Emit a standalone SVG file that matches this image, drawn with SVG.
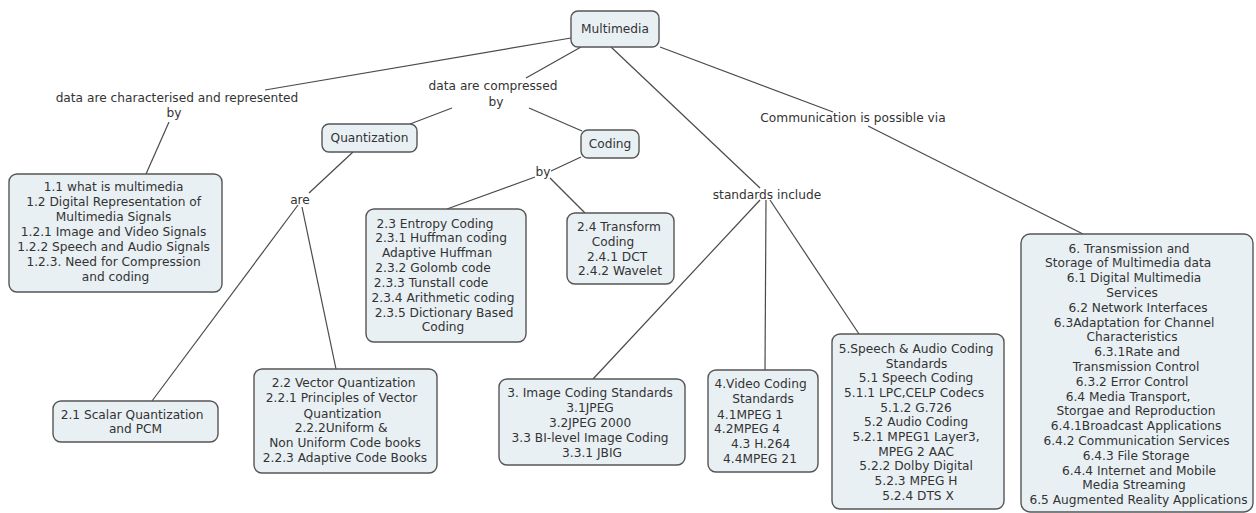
<svg xmlns="http://www.w3.org/2000/svg" width="1256" height="513" viewBox="0 0 1256 513">
  <style>
    .node rect { fill: #e9f0f4; stroke: #555; stroke-width: 1.4; }
    text { font-family: "DejaVu Sans", Verdana, sans-serif; font-size: 12.2px; fill: #333; text-anchor: middle; }
    .conn line { stroke: #4a4a4a; stroke-width: 1.2; }
  </style>
  <rect width="1256" height="513" fill="#ffffff"/>

  <!-- connectors (gaps left where linking phrases sit) -->
  <g id="connectors" class="conn">
    <line x1="571" y1="38" x2="265" y2="90"/>
    <line x1="169" y1="122" x2="146" y2="174"/>
    <line x1="581" y1="47" x2="526" y2="78"/>
    <line x1="452" y1="108" x2="410" y2="124"/>
    <line x1="529" y1="108" x2="582" y2="131"/>
    <line x1="353" y1="152" x2="309" y2="193"/>
    <line x1="298" y1="205" x2="152" y2="401"/>
    <line x1="302" y1="207" x2="336" y2="369"/>
    <line x1="581" y1="157" x2="551" y2="171"/>
    <line x1="535" y1="177" x2="447" y2="209"/>
    <line x1="550" y1="178" x2="585" y2="213"/>
    <line x1="611" y1="47" x2="760" y2="188"/>
    <line x1="760" y1="200" x2="593" y2="379"/>
    <line x1="766" y1="200" x2="765" y2="370"/>
    <line x1="770" y1="200" x2="859" y2="334"/>
    <line x1="660" y1="47" x2="833" y2="112"/>
    <line x1="868" y1="126" x2="1083" y2="234"/>
  </g>

  <!-- linking phrases -->
  <g id="links">
    <text x="177" y="102">data are characterised and represented</text>
    <text x="174" y="117.3">by</text>
    <text x="493" y="90">data are compressed</text>
    <text x="496" y="106">by</text>
    <text x="300" y="204.3">are</text>
    <text x="543" y="176">by</text>
    <text x="767" y="198.6">standards include</text>
    <text x="853" y="122">Communication is possible via</text>
  </g>

  <g id="multimedia" class="node">
    <rect x="571" y="11" width="88" height="36" rx="7"/>
    <text x="615" y="33.3">Multimedia</text>
  </g>

  <g id="quantization" class="node">
    <rect x="322" y="124" width="95" height="28" rx="7"/>
    <text x="369.5" y="142.3">Quantization</text>
  </g>

  <g id="coding" class="node">
    <rect x="581" y="130" width="58" height="28" rx="7"/>
    <text x="610" y="148.3">Coding</text>
  </g>

  <g id="representation" class="node">
    <rect x="9" y="174" width="213" height="118" rx="8"/>
    <text>
      <tspan x="115.5" y="191">1.1 what is multimedia</tspan>
      <tspan x="115.5" y="206">1.2 Digital Representation of</tspan>
      <tspan x="115.5" y="221">Multimedia Signals</tspan>
      <tspan x="115.5" y="236">1.2.1 Image and Video Signals</tspan>
      <tspan x="115.5" y="251">1.2.2 Speech and Audio Signals</tspan>
      <tspan x="115.5" y="266">1.2.3. Need for Compression</tspan>
      <tspan x="115.5" y="281">and coding</tspan>
    </text>
  </g>

  <g id="entropy-coding" class="node">
    <rect x="366" y="209" width="160" height="133" rx="8"/>
    <text>
      <tspan x="437" y="227.6">2.3 Entropy Coding</tspan>
      <tspan x="443" y="242">2.3.1 Huffman coding</tspan>
      <tspan x="439" y="257">Adaptive Huffman</tspan>
      <tspan x="435" y="272">2.3.2 Golomb code</tspan>
      <tspan x="433" y="286.6">2.3.3 Tunstall code</tspan>
      <tspan x="445" y="301.6">2.3.4 Arithmetic coding</tspan>
      <tspan x="446" y="316.6">2.3.5 Dictionary Based</tspan>
      <tspan x="443" y="330.8">Coding</tspan>
    </text>
  </g>

  <g id="transform-coding" class="node">
    <rect x="567" y="213" width="107" height="71" rx="8"/>
    <text>
      <tspan x="621" y="231">2.4 Transform</tspan>
      <tspan x="615" y="246">Coding</tspan>
      <tspan x="619" y="261">2.4.1 DCT</tspan>
      <tspan x="620" y="275.3">2.4.2 Wavelet</tspan>
    </text>
  </g>

  <g id="scalar-quantization" class="node">
    <rect x="53" y="401" width="165" height="41" rx="8"/>
    <text>
      <tspan x="134" y="419.3">2.1 Scalar Quantization</tspan>
      <tspan x="135.5" y="432.8">and PCM</tspan>
    </text>
  </g>

  <g id="vector-quantization" class="node">
    <rect x="254" y="369" width="183" height="104" rx="8"/>
    <text>
      <tspan x="345.5" y="386.6">2.2 Vector Quantization</tspan>
      <tspan x="343.5" y="402">2.2.1 Principles of Vector</tspan>
      <tspan x="344.5" y="417.6">Quantization</tspan>
      <tspan x="343" y="432">2.2.2Uniform &amp;</tspan>
      <tspan x="347" y="447">Non Uniform Code books</tspan>
      <tspan x="345" y="462">2.2.3 Adaptive Code Books</tspan>
    </text>
  </g>

  <g id="image-standards" class="node">
    <rect x="499" y="379" width="186" height="86" rx="8"/>
    <text>
      <tspan x="592" y="396.6">3. Image Coding Standards</tspan>
      <tspan x="592" y="412">3.1JPEG</tspan>
      <tspan x="592" y="426.6">3.2JPEG 2000</tspan>
      <tspan x="592" y="441.6">3.3 BI-level Image Coding</tspan>
      <tspan x="592" y="456.6">3.3.1 JBIG</tspan>
    </text>
  </g>

  <g id="video-standards" class="node">
    <rect x="708" y="370" width="110" height="102" rx="8"/>
    <text>
      <tspan x="762.5" y="388.3">4.Video Coding</tspan>
      <tspan x="765" y="403.3">Standards</tspan>
      <tspan x="752" y="418.6">4.1MPEG 1</tspan>
      <tspan x="749" y="432.6">4.2MPEG 4</tspan>
      <tspan x="762.5" y="448.3">4.3 H.264</tspan>
      <tspan x="760" y="462.6">4.4MPEG 21</tspan>
    </text>
  </g>

  <g id="audio-standards" class="node">
    <rect x="832" y="334" width="172" height="175" rx="8"/>
    <text>
      <tspan x="918" y="352.8">5.Speech &amp; Audio Coding</tspan>
      <tspan x="918.5" y="367.5">Standards</tspan>
      <tspan x="918" y="382.2">5.1 Speech Coding</tspan>
      <tspan x="916" y="396.9">5.1.1 LPC,CELP Codecs</tspan>
      <tspan x="918" y="411.6">5.1.2 G.726</tspan>
      <tspan x="918" y="426.3">5.2 Audio Coding</tspan>
      <tspan x="918" y="441">5.2.1 MPEG1 Layer3,</tspan>
      <tspan x="918" y="455.7">MPEG 2 AAC</tspan>
      <tspan x="918" y="470.4">5.2.2 Dolby Digital</tspan>
      <tspan x="918" y="485.1">5.2.3 MPEG H</tspan>
      <tspan x="918" y="499.8">5.2.4 DTS X</tspan>
    </text>
  </g>

  <g id="transmission-storage" class="node">
    <rect x="1021" y="234" width="232" height="278" rx="9"/>
    <text>
      <tspan x="1131" y="252.6">6. Transmission and</tspan>
      <tspan x="1130" y="267.4">Storage of Multimedia data</tspan>
      <tspan x="1136" y="282.2">6.1 Digital Multimedia</tspan>
      <tspan x="1134" y="297">Services</tspan>
      <tspan x="1140" y="311.8">6.2 Network Interfaces</tspan>
      <tspan x="1136" y="326.6">6.3Adaptation for Channel</tspan>
      <tspan x="1134" y="341.4">Characteristics</tspan>
      <tspan x="1139" y="356.2">6.3.1Rate and</tspan>
      <tspan x="1138" y="371">Transmission Control</tspan>
      <tspan x="1134" y="385.8">6.3.2 Error Control</tspan>
      <tspan x="1130" y="400.6">6.4 Media Transport,</tspan>
      <tspan x="1138" y="415.4">Storgae and Reproduction</tspan>
      <tspan x="1138" y="430.2">6.4.1Broadcast Applications</tspan>
      <tspan x="1138.5" y="445">6.4.2 Communication Services</tspan>
      <tspan x="1138" y="459.8">6.4.3 File Storage</tspan>
      <tspan x="1141" y="474.6">6.4.4 Internet and Mobile</tspan>
      <tspan x="1136" y="489.4">Media Streaming</tspan>
      <tspan x="1138.5" y="504.2">6.5 Augmented Reality Applications</tspan>
    </text>
  </g>
</svg>
